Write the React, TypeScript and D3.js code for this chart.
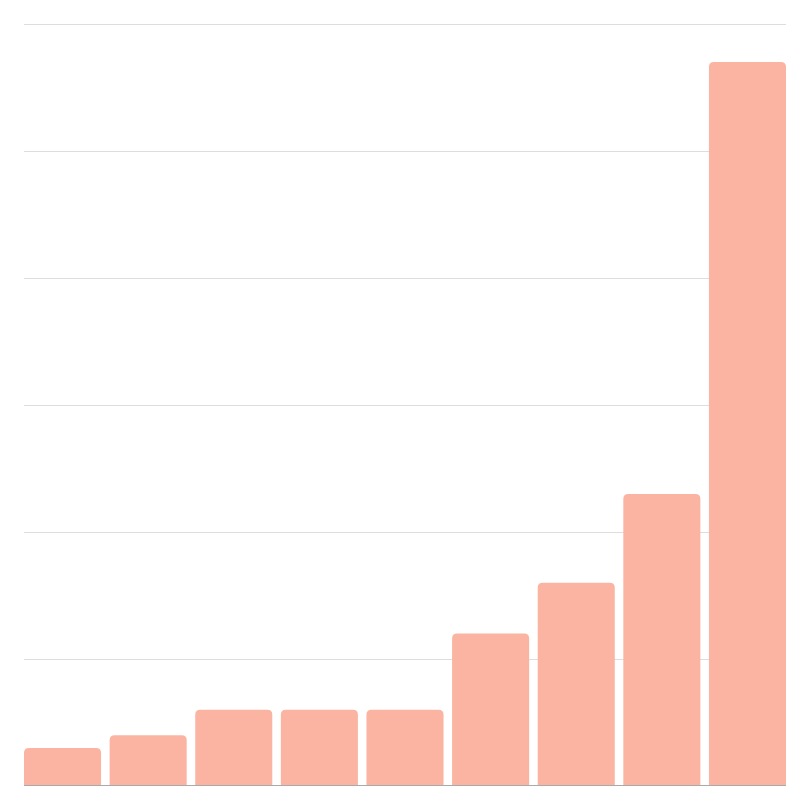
import React from "react";
import * as d3 from "d3";

const categories = ["A", "B", "C", "D", "E", "F", "G", "H", "I"];
const values = [3, 4, 6, 6, 6, 12, 16, 23, 57];
const yTicks = [0, 10, 20, 30, 40, 50, 60];

const W = 810;
const H = 810;
const M = { top: 24, right: 24, bottom: 24, left: 24 };

function topRoundedRect(x: number, y: number, w: number, h: number, r: number) {
  const rr = Math.min(r, h, w / 2);
  return `M${x},${y + h}V${y + rr}Q${x},${y} ${x + rr},${y}H${x + w - rr}Q${x + w},${y} ${x + w},${y + rr}V${y + h}Z`;
}

export default function App() {
  const x = d3
    .scaleBand<string>()
    .domain(categories)
    .range([M.left, W - M.right])
    .paddingInner(0.1)
    .paddingOuter(0);
  const y = d3.scaleLinear().domain([0, 60]).range([H - M.bottom, M.top]);

  return (
    <svg
      width={W}
      height={H}
      style={{ position: "absolute", left: 0, top: 0, background: "#fff" }}
    >
      <g>
        {yTicks.slice(1).map((t) => (
          <line
            key={t}
            x1={M.left}
            x2={W - M.right}
            y1={Math.round(y(t)) + 0.5}
            y2={Math.round(y(t)) + 0.5}
            stroke="#dddddd"
            strokeWidth={1}
          />
        ))}
      </g>
      <line
        x1={M.left}
        x2={W - M.right}
        y1={y(0) - 0.5}
        y2={y(0) - 0.5}
        stroke="#aaaaaa"
        strokeWidth={1}
      />
      <g>
        {values.map((v, i) => {
          const bx = x(categories[i])!;
          const by = y(v);
          const bh = y(0) - 1 - by;
          return (
            <path
              key={categories[i]}
              d={topRoundedRect(bx, by, x.bandwidth(), bh, 5)}
              fill="#fbb4a1"
            />
          );
        })}
      </g>
    </svg>
  );
}
